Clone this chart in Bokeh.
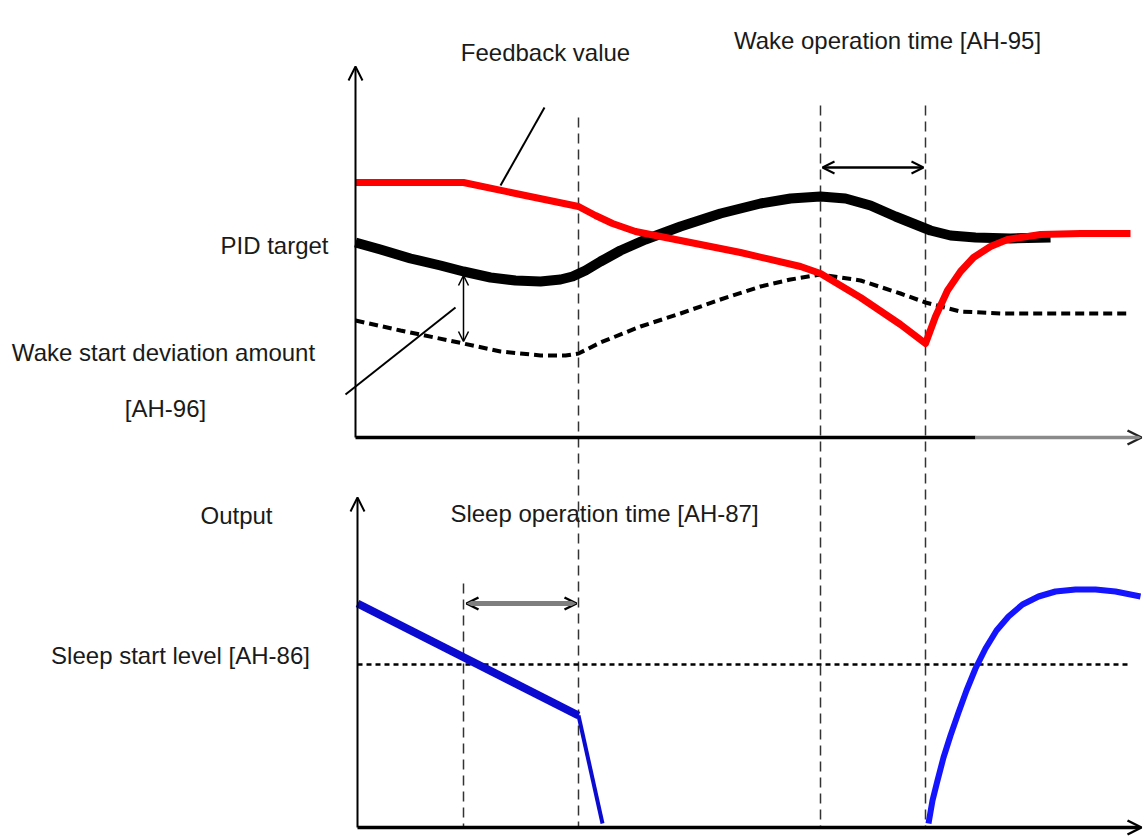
from bokeh.plotting import figure
from bokeh.models import Range1d, Arrow, OpenHead, ColumnDataSource
from bokeh.core.properties import value
from bokeh.embed import file_html
from bokeh.resources import INLINE

# ---- data (diagram coordinates: x = time, y = level, screen-like units) ----
feedback_x = [355, 463, 520, 578, 595, 612, 635, 680, 740, 800, 820, 860, 900, 925, 935, 947, 960, 973, 990, 1007, 1040, 1080, 1130]
feedback_y = [182, 182, 194, 206, 215, 223, 231, 240, 252, 266, 273, 297, 324, 343, 316, 290, 271, 257, 246, 239, 234, 233, 233]

pid_x = [355, 380, 410, 440, 463, 490, 515, 540, 560, 572, 585, 600, 620, 645, 680, 720, 760, 790, 820, 845, 870, 895, 915, 930, 950, 975, 1010, 1050]
pid_y = [242, 249, 258, 265, 271, 277, 280, 281, 279, 276, 270, 261, 250, 239, 226, 213, 203, 198, 196, 198, 205, 216, 224, 230, 235, 237, 238, 237]

wake_x = [355, 400, 463, 500, 540, 565, 578, 600, 640, 680, 720, 760, 790, 820, 860, 900, 925, 960, 1000, 1060, 1130]
wake_y = [320, 330, 343, 351, 355, 355, 353, 342, 326, 313, 299, 286, 279, 274, 280, 293, 302, 311, 313, 313, 313]

output_a_x = [357, 578]
output_a_y = [603, 715]
output_b_x = [578, 602]
output_b_y = [715, 823]
output_c_x = [928, 932, 937, 943, 950, 958, 966, 975, 985, 996, 1008, 1022, 1038, 1055, 1075, 1095, 1115, 1140]
output_c_y = [823, 800, 780, 757, 735, 712, 690, 668, 648, 630, 616, 604, 596, 591, 589, 589, 591, 596]

sleep_level = 664
event_x = [463, 578, 820, 925]

labels = ["Feedback value", "Wake operation time [AH-95]", "PID target",
          "Wake start deviation amount", "[AH-96]", "Output",
          "Sleep operation time [AH-87]", "Sleep start level [AH-86]"]
label_x = [545, 887, 328, 163, 165, 236, 604, 180]
label_y = [52, 40, 245, 352, 408, 515, 513, 655]
label_align = ["center", "center", "right", "center", "center", "center", "center", "center"]

FONT = value("Liberation Sans")

p = figure(width=1146, height=839, output_backend="svg", toolbar_location=None,
           x_range=Range1d(0, 1146), y_range=Range1d(839, 0),
           min_border=0, min_border_left=0, min_border_right=0,
           min_border_top=0, min_border_bottom=0)
p.axis.visible = False
p.grid.visible = False
p.outline_line_color = None
p.background_fill_color = "white"
p.border_fill_color = "white"

# vertical dashed event lines
p.segment(x0=[event_x[1], event_x[2], event_x[3]], y0=[117, 105, 105],
          x1=[event_x[1], event_x[2], event_x[3]], y1=[826, 826, 826],
          line_color="#333333", line_width=1.5, line_dash="10 6")
p.segment(x0=[event_x[0]], y0=[583], x1=[event_x[0]], y1=[826],
          line_color="#333333", line_width=1.5, line_dash="10 6")

# sleep start level dotted line
p.line([357, 1130], [sleep_level, sleep_level], line_color="black", line_width=2.5, line_dash="5 4")

# curves upper panel
p.line(wake_x, wake_y, line_color="black", line_width=4, line_dash="9 5")
p.line(pid_x, pid_y, line_color="black", line_width=10, line_join="round")
p.line(feedback_x, feedback_y, line_color="#ff0000", line_width=7, line_join="round")

# output curves
p.line(output_a_x, output_a_y, line_color="#0a0ad0", line_width=8)
p.line(output_b_x, output_b_y, line_color="#0a0ad0", line_width=4)
p.line(output_c_x, output_c_y, line_color="#1414ff", line_width=6, line_join="round")

# axes (upper)
p.add_layout(Arrow(end=OpenHead(size=14, line_width=2, line_color="black"),
                   x_start=355, y_start=437, x_end=355, y_end=66, line_width=2, line_color="black"))
p.line([355, 975], [437, 437], line_color="black", line_width=3.5)
p.add_layout(Arrow(end=OpenHead(size=14, line_width=2.5, line_color="#222222"),
                   x_start=975, y_start=437, x_end=1141, y_end=437, line_width=3.5, line_color="#8a8a8a"))
# axes (lower)
p.add_layout(Arrow(end=OpenHead(size=14, line_width=2, line_color="black"),
                   x_start=357, y_start=827, x_end=357, y_end=497, line_width=2, line_color="black"))
p.add_layout(Arrow(end=OpenHead(size=14, line_width=2.5, line_color="black"),
                   x_start=357, y_start=827, x_end=1141, y_end=827, line_width=3.5, line_color="black"))

# double arrows
p.add_layout(Arrow(start=OpenHead(size=12, line_width=2), end=OpenHead(size=12, line_width=2),
                   x_start=822, y_start=167, x_end=923, y_end=167, line_width=2.5, line_color="black"))
p.add_layout(Arrow(start=OpenHead(size=10, line_width=1.5), end=OpenHead(size=10, line_width=1.5),
                   x_start=463, y_start=275, x_end=463, y_end=341, line_width=1.5, line_color="black"))
p.add_layout(Arrow(start=OpenHead(size=12, line_width=2.5, line_color="black"),
                   end=OpenHead(size=12, line_width=2.5, line_color="black"),
                   x_start=466, y_start=603, x_end=576, y_end=603, line_width=5, line_color="#7f7f7f"))

# leader lines
p.segment(x0=[544, 345], y0=[107, 394], x1=[500, 455], y1=[185, 307], line_color="black", line_width=2)

# labels
src = ColumnDataSource(dict(x=label_x, y=label_y, t=labels, a=label_align))
p.text(x="x", y="y", text="t", text_align="a", text_baseline="middle", source=src,
       text_font=FONT, text_font_size="24px", text_color="#1a1a1a")

open("out.html", "w").write(file_html(p, INLINE))
